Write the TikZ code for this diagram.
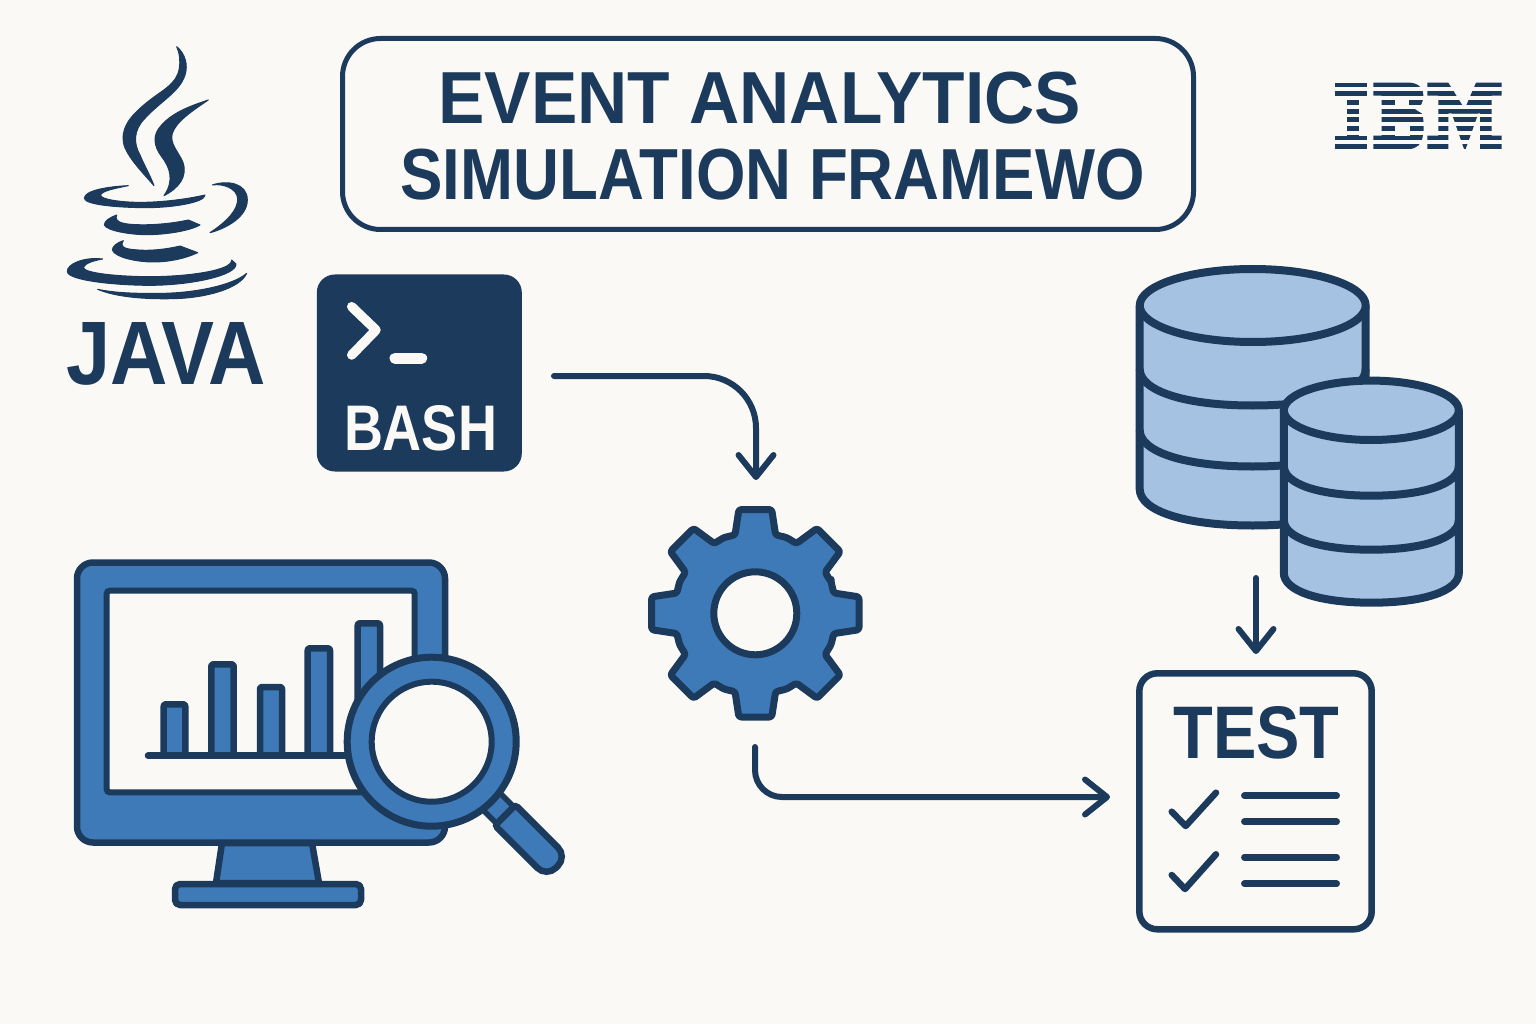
\documentclass[tikz,border=0pt]{standalone}
\usepackage{graphicx}
\usepackage{fontspec}
\setmainfont{Liberation Sans}
\usetikzlibrary{arrows.meta}
\definecolor{bgc}{HTML}{FBF9F5}
\definecolor{dark}{HTML}{1B3A5C}
\definecolor{blue1}{HTML}{3F7AB8}
\definecolor{light1}{HTML}{A5C2E2}
\newcommand{\fitt}[7][]{\node[txt,#1] (#2) at (#3,#4) {\resizebox{#5pt}{#6pt}{#7}};}
% cylinder: name, cx, cy, rx, ry, band1 cy, band2 cy, bottom cy
\newcommand{\dbcyl}[8]{%
  \fill[light1] (#2-#4,#3) -- (#2-#4,#8) .. controls (#2-#4,#8+0.6*#5) and (#2-0.6*#4,#8+#5) .. (#2,#8+#5)
     .. controls (#2+0.6*#4,#8+#5) and (#2+#4,#8+0.6*#5) .. (#2+#4,#8) -- (#2+#4,#3) -- cycle;
  \draw[dbline] (#2-#4,#6) .. controls (#2-#4,#6+0.6*#5) and (#2-0.6*#4,#6+#5) .. (#2,#6+#5)
     .. controls (#2+0.6*#4,#6+#5) and (#2+#4,#6+0.6*#5) .. (#2+#4,#6);
  \draw[dbline] (#2-#4,#7) .. controls (#2-#4,#7+0.6*#5) and (#2-0.6*#4,#7+#5) .. (#2,#7+#5)
     .. controls (#2+0.6*#4,#7+#5) and (#2+#4,#7+0.6*#5) .. (#2+#4,#7);
  \draw[dbline] (#2-#4,#3) -- (#2-#4,#8) .. controls (#2-#4,#8+0.6*#5) and (#2-0.6*#4,#8+#5) .. (#2,#8+#5)
     .. controls (#2+0.6*#4,#8+#5) and (#2+#4,#8+0.6*#5) .. (#2+#4,#8) -- (#2+#4,#3);
  \draw[dbline,fill=light1] (#2,#3) ellipse [x radius=#4pt,y radius=#5pt];
  \coordinate (#1) at (#2,#3);
}
\tikzset{
  txt/.style={anchor=south west,inner sep=0pt,outer sep=0pt,text=dark,font=\bfseries},
  icon/.style={draw=dark,fill=blue1,line width=6.5pt,line join=round},
  dbline/.style={draw=dark,line width=8pt,line join=round},
  conn/.style={draw=dark,line width=6pt,line cap=round,
     -{Straight Barb[length=22pt,width=35pt,line width=6pt,round]}},
  plainline/.style={draw=dark,line width=6.5pt,line cap=round,line join=round},
  logo/.style={fill=dark,draw=none},
  javalogo/.style={fill=dark,draw=dark,line width=1pt,line join=round},
}
\begin{document}
\begin{tikzpicture}[x=1pt,y=-1pt]
\fill[bgc] (0,0) rectangle (1536,1024);
\useasboundingbox (0,0) rectangle (1536,1024);

% title
\node[draw=dark,line width=5pt,rounded corners=38pt,minimum width=851pt,minimum height=191pt,inner sep=0pt] (titlebox) at (768,134) {};
\fitt{t1}{438.5}{124}{642}{51.5}{EVENT ANALYTICS}
\fitt{t2}{400.5}{200}{744}{50.5}{SIMULATION FRAMEWO}

% java logo
\begin{scope}[shift={(50,30)},scale=0.33333]
\path[javalogo] (380,50) .. controls (405,70) and (415,105) .. (405,135) .. controls (390,185) and (330,215) .. (285,265) .. controls (250,300) and (250,340) .. (270,375) .. controls (280,400) and (300,435) .. (312,467) .. controls (280,430) and (235,385) .. (222,345) .. controls (210,295) and (240,260) .. (285,222) .. controls (335,180) and (380,165) .. (388,115) .. controls (391,95) and (390,70) .. (380,50) -- cycle;
\path[javalogo] (475,210) .. controls (430,225) and (370,245) .. (335,285) .. controls (305,315) and (312,350) .. (335,380) .. controls (358,410) and (375,450) .. (342,497) .. controls (385,475) and (415,440) .. (398,395) .. controls (385,365) and (358,340) .. (367,310) .. controls (378,275) and (430,240) .. (475,210) -- cycle;
\path[javalogo] (235,467) .. controls (170,470) and (103,482) .. (103,505) .. controls (105,525) and (210,533) .. (290,533) .. controls (370,533) and (465,517) .. (465,495) .. controls (400,510) and (320,518) .. (260,517) .. controls (210,516) and (150,508) .. (152,495) .. controls (155,483) and (195,475) .. (235,467) -- cycle;
\path[javalogo] (200,555) .. controls (180,562) and (163,573) .. (163,585) .. controls (170,602) and (240,614) .. (290,614) .. controls (350,614) and (420,602) .. (450,585) -- (415,570) .. controls (370,580) and (310,586) .. (260,584) .. controls (225,583) and (190,578) .. (200,555) -- cycle;
\path[javalogo] (220,632) .. controls (200,638) and (187,650) .. (187,660) .. controls (195,682) and (260,696) .. (310,696) .. controls (360,696) and (410,684) .. (443,668) -- (390,648) .. controls (350,658) and (300,663) .. (265,660) .. controls (235,658) and (205,655) .. (220,632) -- cycle;
\path[javalogo] (158,687) .. controls (100,680) and (50,703) .. (52,725) .. controls (55,752) and (200,766) .. (300,766) .. controls (420,766) and (560,737) .. (558,702) -- (545,690) .. controls (548,722) and (410,740) .. (300,740) .. controls (210,740) and (100,730) .. (100,712) .. controls (105,700) and (130,692) .. (158,687) -- cycle;
\path[javalogo] (143,778) .. controls (200,802) and (290,808) .. (370,806) .. controls (470,804) and (570,775) .. (590,730) .. controls (550,765) and (440,788) .. (340,790) .. controls (270,791) and (200,790) .. (143,778) -- cycle;
\path[javalogo] (487,465) .. controls (530,450) and (592,458) .. (592,510) .. controls (592,560) and (530,595) .. (480,608) .. controls (530,575) and (565,540) .. (563,505) .. controls (560,475) and (520,460) .. (487,465) -- cycle;
\end{scope}
\fitt{java}{66}{385}{200}{62}{JAVA}

% ibm logo
\begin{scope}[shift={(1320,70)},scale=0.33333]
\fill[logo] (45,38) rectangle (140,77);
\fill[logo] (80,77) rectangle (117,197);
\fill[logo] (45,197) rectangle (140,237);
\fill[logo] (160,38) -- (270,38) .. controls (300,40) and (310,60) .. (310,75) .. controls (310,95) and (305,110) .. (285,118) -- (305,130) .. controls (312,145) and (312,170) .. (310,190) .. controls (305,225) and (290,237) .. (265,237) -- (160,237) -- (160,197) -- (185,197) -- (185,77) -- (160,77) -- cycle;
\fill[bgc] (225,77) rectangle (268,117);
\fill[bgc] (225,156) rectangle (270,197);
\fill[logo] (322,38) -- (385,38) -- (434,117) -- (468,38) -- (545,38) -- (545,77) -- (515,77) -- (515,197) -- (545,197) -- (545,237) -- (480,237) -- (480,130) -- (385,130) -- (385,237) -- (322,237) -- (322,197) -- (355,197) -- (355,77) -- (322,77) -- cycle;
\fill[logo] (395,130) -- (475,130) -- (437,237) -- (432,237) -- cycle;
\foreach \ya/\yb in {51/64,78/91,105/116,131/142,157/169,184/196,211/222}{
  \fill[bgc] (40,\ya) rectangle (550,\yb);
}
\end{scope}

% bash
\node[fill=dark,rounded corners=18pt,minimum width=205pt,minimum height=197pt,inner sep=0pt] (bash) at (419.3,373) {};
\draw[bgc,line width=9.5pt,line cap=round,line join=round] (351.7,306.7) -- (376,330) -- (351.7,355);
\draw[bgc,line width=11pt,line cap=round] (395,358.3) -- (421.7,358.3);
\fitt[text=bgc]{basht}{344}{451}{153}{45}{BASH}

% monitor
\node[icon,rounded corners=16pt,minimum width=368pt,minimum height=280pt,inner sep=0pt] (monitor) at (261,702.5) {};
\node[draw=dark,fill=bgc,line width=6pt,rounded corners=3pt,minimum width=308pt,minimum height=201.6pt,inner sep=0pt] (screen) at (260.7,691.5) {};
\draw[icon] (222,843) -- (312,843) -- (319,883) -- (216,883) -- cycle;
\draw[icon,rounded corners=5pt] (175,884) rectangle (361,905);
\foreach \xa/\xb/\yt in {163.7/185.3/704.3,211.3/233.7/664.3,260/282/687,307.7/330/648.3,357.7/380/623.3}{
  \draw[icon,rounded corners=2pt] (\xa,755.7) -- (\xa,\yt) -- (\xb,\yt) -- (\xb,755.7);
}
\draw[plainline] (148,755.7) -- (350,755.7);

% magnifier
\begin{scope}[shift={(431.7,741.7)},rotate=-45]
\draw[draw=dark,fill=blue1,line width=5.5pt] (75,-12) rectangle (104,12);
\draw[draw=dark,fill=blue1,line width=6.5pt,rounded corners=3pt] (104,14.5) -- (104,-14.5) [rounded corners=13pt] -- (177,-14.5) -- (177,14.5) [rounded corners=3pt] -- cycle;
\end{scope}
\node[circle,draw=dark,fill=blue1,line width=7pt,minimum size=169pt,inner sep=0pt] (lensring) at (431.7,741.7) {};
\node[circle,draw=dark,fill=bgc,line width=6pt,minimum size=120pt,inner sep=0pt] (lens) at (431.7,741.7) {};

% gear
\begin{scope}[shift={(755.3,613.3)}]
\draw[draw=dark,fill=blue1,line width=7pt,line join=round,rounded corners=2.5pt] (-22.5:82)
  \foreach \a in {0,45,...,315}{
    -- ({\a-14.5}:81) -- ({\a-9}:105) -- ({\a+9}:105) -- ({\a+14.5}:81) -- ({\a+22.5}:82)
  } -- cycle;
\node[circle,draw=dark,fill=bgc,line width=7pt,minimum size=83pt,inner sep=0pt] (gearhole) at (0,0) {};
\end{scope}

% databases
\dbcyl{dbbig}{1252.7}{305.5}{113}{36.5}{369}{430}{489}
\dbcyl{dbsmall}{1371.3}{410.3}{87.5}{29.7}{466}{520}{573}

% test card
\node[draw=dark,fill=bgc,line width=6.5pt,rounded corners=18pt,minimum width=232.4pt,minimum height=256pt,inner sep=0pt] (test) at (1255.5,801.3) {};
\fitt{testt}{1173.5}{759.5}{166}{52}{TEST}
\draw[plainline] (1171.7,811.7) -- (1185.7,826) -- (1216,792.7);
\draw[plainline] (1171.7,875) -- (1185,889) -- (1216,854.3);
\foreach \yy in {795.7,821.7,857.3,883.7}{
  \draw[plainline] (1244.3,\yy) -- (1336.7,\yy);
}

% connectors
\coordinate (bashout) at (554,376);
\coordinate (gearin) at (756,480);
\coordinate (gearout) at (755,747);
\coordinate (testin) at (1110,797);
\coordinate (dbout) at (1256,578);
\coordinate (testtop) at (1256,654);
\draw[conn,rounded corners=52pt] (bashout) -| (gearin);
\draw[conn,rounded corners=27pt] (gearout) |- (testin);
\draw[conn] (dbout) -- (testtop);
\end{tikzpicture}
\end{document}
